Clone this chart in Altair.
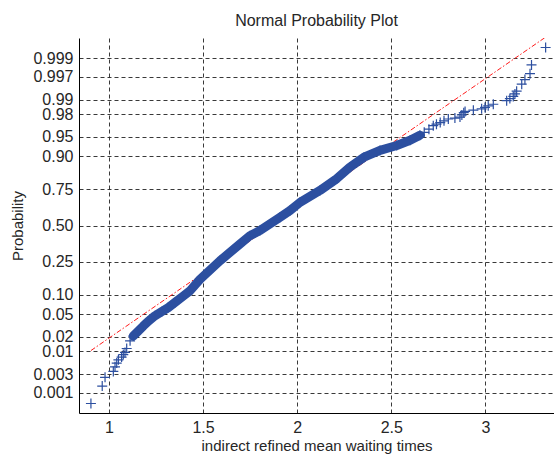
import altair as alt
import pandas as pd
from statistics import NormalDist

# ---- data ----
N_TOTAL = 1000  # sample size (plotting positions (i-0.5)/N)
ranks = [1, 2, 3, 4, 5, 6, 7, 8, 9, 10, 12, 17, 21, 26, 32, 39, 48, 56, 65, 78, 97, 114,
         161, 258, 367, 426, 463, 561, 610, 666, 742, 807, 860, 897, 918, 931, 943, 953,
         958, 963, 968, 970, 972, 974, 976, 977, 978, 980, 982, 983, 984, 985, 986, 987,
         988, 990, 991, 992, 993, 994, 996, 997, 998, 999, 1000]
values = [0.904, 0.964, 0.979, 1.023, 1.032, 1.041, 1.05, 1.067, 1.076, 1.085, 1.094, 1.112,
          1.129, 1.156, 1.182, 1.209, 1.244, 1.28, 1.315, 1.351, 1.395, 1.43,
          1.484, 1.59, 1.696, 1.749, 1.802, 1.909, 1.962, 2.015, 2.121, 2.21, 2.28, 2.355,
          2.44, 2.529, 2.60, 2.652, 2.675, 2.70, 2.723, 2.74, 2.76, 2.78, 2.803, 2.838,
          2.865, 2.875, 2.885, 2.892, 2.936, 2.98, 2.998, 3.015, 3.042, 3.113, 3.13, 3.148,
          3.157, 3.166, 3.193, 3.21, 3.237, 3.245, 3.32]

# reference line (fit): mean and standard deviation
line_mu = 1.868
line_sigma = 0.417

prob_ticks = [0.001, 0.003, 0.01, 0.02, 0.05, 0.10, 0.25, 0.50, 0.75, 0.90, 0.95, 0.98,
              0.99, 0.997, 0.999]
prob_labels = ["0.001", "0.003", "0.01", "0.02", "0.05", "0.10", "0.25", "0.50", "0.75",
               "0.90", "0.95", "0.98", "0.99", "0.997", "0.999"]
x_ticks = [1, 1.5, 2, 2.5, 3]

# ---- build ----
nd = NormalDist()
df = pd.DataFrame({"x": values, "rank": ranks})
df["z"] = [nd.inv_cdf((r - 0.5) / N_TOTAL) for r in ranks]
band = df[(df["rank"] >= 21) & (df["rank"] <= 953)]

xmin, xmax = min(values), max(values)
line_df = pd.DataFrame({"x": [xmin, xmax],
                        "z": [(xmin - line_mu) / line_sigma, (xmax - line_mu) / line_sigma]})

z_ticks = [nd.inv_cdf(p) for p in prob_ticks]
expr = "''"
for zt, lab in reversed(list(zip(z_ticks, prob_labels))):
    expr = f"(abs(datum.value - ({zt:.6f})) < 0.001 ? '{lab}' : {expr})"

FONT = "Liberation Sans"
TXT = "#262626"
BLUE = "#2c4fa0"

xs = alt.Scale(domain=[0.8406, 3.3645], nice=False, zero=False)
ys = alt.Scale(domain=[-3.466, 3.466], nice=False, zero=False)

common = dict(grid=True, ticks=False, labelOverlap=False, labelFont=FONT, labelFontSize=16,
              labelColor=TXT, titleFont=FONT, titleFontSize=15, titleColor=TXT,
              titleFontWeight="normal", domainColor="#000000", domainWidth=1,
              gridColor="#222222", gridDash=[4, 3], gridWidth=0.9, gridOpacity=1,
              tickCount=40)

x_axis = alt.Axis(values=x_ticks, labelExpr="datum.value + ''",
                  title="indirect refined mean waiting times",
                  labelPadding=6, titleY=37, titleBaseline="alphabetic", **common)
y_axis = alt.Axis(values=z_ticks, labelExpr=expr, title="Probability",
                  labelPadding=6, titleX=-62, titleY=187.5, titleAngle=270, titleAlign="center",
                  titleBaseline="middle", **common)

ref = alt.Chart(line_df).mark_line(color="#ff1a1a", strokeWidth=1, strokeDash=[5, 2, 1.5, 2],
                                   clip=True).encode(
    x=alt.X("x:Q", scale=xs, axis=x_axis),
    y=alt.Y("z:Q", scale=ys, axis=y_axis),
)

band_line = alt.Chart(band).mark_line(color=BLUE, strokeWidth=9, strokeCap="round",
                                      strokeJoin="round").encode(
    x=alt.X("x:Q", scale=xs), y=alt.Y("z:Q", scale=ys), order="rank:Q")

pts = alt.Chart(df).mark_point(shape="M-1,0L1,0M0,-1L0,1", size=100, filled=False,
                               color=BLUE, strokeWidth=1.2, opacity=1).encode(
    x=alt.X("x:Q", scale=xs), y=alt.Y("z:Q", scale=ys))

chart = alt.layer(ref, band_line, pts).properties(
    width=475, height=375,
    background="white",
    title=alt.TitleParams("Normal Probability Plot", fontSize=16, font=FONT, color=TXT,
                          fontWeight="normal", anchor="middle", offset=9),
    autosize=alt.AutoSizeParams(type="none"),
    padding={"left": 79, "top": 38, "right": 0, "bottom": 44},
).configure_view(stroke=None)

chart.save("out.html", embed_options={"renderer": "svg", "actions": False})
